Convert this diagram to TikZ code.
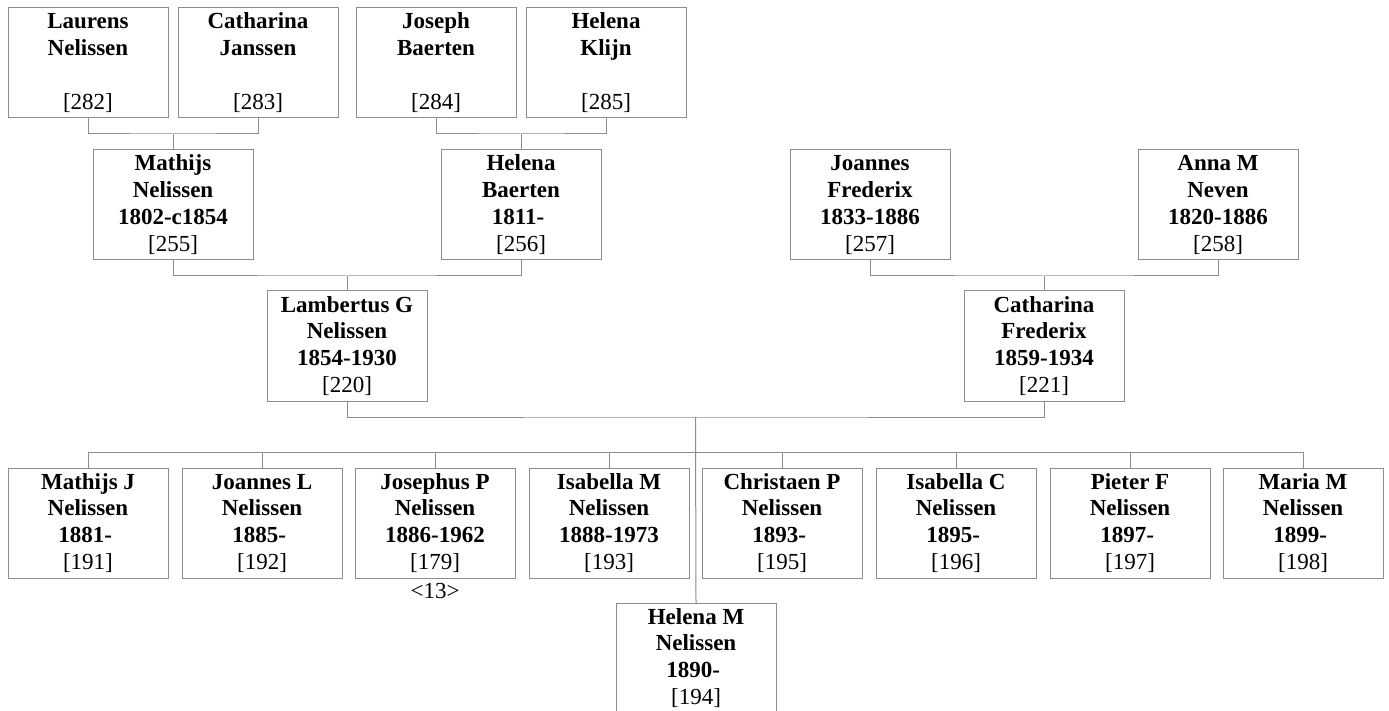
\documentclass[tikz,border=0pt]{standalone}
\usepackage{fontspec}
\setmainfont{Liberation Serif}
\usetikzlibrary{calc}
\definecolor{linec}{RGB}{140,140,140}
\newcommand\personcell[4]{\vbox to 110pt{\hsize=160pt\parindent=0pt\leftskip=0pt plus 1fil\rightskip=0pt plus 1fil\parfillskip=0pt\fontsize{23pt}{26.7pt}\selectfont\kern-5.7pt\prevdepth=0pt
\mbox{\bfseries #1}\par\mbox{\bfseries #2}\par\mbox{\bfseries #3}\par\mbox{#4}\par\vss}}
\newcommand\tsp{\kern.25em}
\tikzset{
  person/.style={draw=linec, line width=1pt, inner sep=0pt, outer sep=0pt, anchor=north west},
  conn/.style={draw=linec, line width=1pt},
  note/.style={inner sep=0pt, anchor=base, font=\fontsize{23pt}{26.7pt}\selectfont}
}
\begin{document}
\begin{tikzpicture}[x=1pt,y=-1pt]
\fill[white] (0,0) rectangle (1389,711);
\useasboundingbox (0,0) rectangle (1389,711);
% row A
\node[person] (laurens) at (8,8) {\personcell{Laurens}{Nelissen}{}{[282]}};
\node[person] (cathj) at (178,8) {\personcell{Catharina}{Janssen}{}{[283]}};
\node[person] (joseph) at (356,8) {\personcell{Joseph}{Baerten}{}{[284]}};
\node[person] (helenak) at (526,8) {\personcell{Helena}{Klijn}{}{[285]}};
% row B
\node[person] (mathijs) at (93,150) {\personcell{Mathijs}{Nelissen}{1802-c1854}{[255]}};
\node[person] (helenab) at (441,150) {\personcell{Helena}{Baerten}{1811-\tsp}{[256]}};
\node[person] (joannesf) at (790,150) {\personcell{Joannes}{Frederix}{1833-1886}{[257]}};
\node[person] (anna) at (1138,150) {\personcell{Anna M}{Neven}{1820-1886}{[258]}};
% row C
\node[person] (lamb) at (267,291) {\personcell{Lambertus G}{Nelissen}{1854-1930}{[220]}};
\node[person] (cathf) at (964,291) {\personcell{Catharina}{Frederix}{1859-1934}{[221]}};
% row D
\node[person] (c1) at (8,468) {\personcell{Mathijs J}{Nelissen}{1881-\tsp}{[191]}};
\node[person] (c2) at (182,468) {\personcell{Joannes L}{Nelissen}{1885-\tsp}{[192]}};
\node[person] (c3) at (355,468) {\personcell{Josephus P}{Nelissen}{1886-1962}{[179]}};
\node[person] (c4) at (529,468) {\personcell{Isabella M}{Nelissen}{1888-1973}{[193]}};
\node[person] (c5) at (702,468) {\personcell{Christaen P}{Nelissen}{1893-\tsp}{[195]}};
\node[person] (c6) at (876,468) {\personcell{Isabella C}{Nelissen}{1895-\tsp}{[196]}};
\node[person] (c7) at (1050,468) {\personcell{Pieter F}{Nelissen}{1897-\tsp}{[197]}};
\node[person] (c8) at (1223,468) {\personcell{Maria M}{Nelissen}{1899-\tsp}{[198]}};
\node[person] (helenam) at (616,603) {\personcell{Helena M}{Nelissen}{1890-\tsp}{[194]}};
\node[note] (n13) at (435,598) {\textless13\textgreater};
% couple connectors
\coordinate (k1) at ($(laurens.south)!0.5!(cathj.south)+(0,16)$);
\draw[conn] (laurens.south) |- (k1) -| (cathj.south);
\draw[conn] (k1) -- (mathijs.north);
\coordinate (k2) at ($(joseph.south)!0.5!(helenak.south)+(0,16)$);
\draw[conn] (joseph.south) |- (k2) -| (helenak.south);
\draw[conn] (k2) -- (helenab.north);
\coordinate (k3) at ($(mathijs.south)!0.5!(helenab.south)+(0,16)$);
\draw[conn] (mathijs.south) |- (k3) -| (helenab.south);
\draw[conn] (k3) -- (lamb.north);
\coordinate (k4) at ($(joannesf.south)!0.5!(anna.south)+(0,16)$);
\draw[conn] (joannesf.south) |- (k4) -| (anna.south);
\draw[conn] (k4) -- (cathf.north);
\coordinate (k5) at ($(lamb.south)!0.5!(cathf.south)+(0,16)$);
\draw[conn] (lamb.south) |- (k5) -| (cathf.south);
\draw[conn] (k5) -- (helenam.north);
% children bar
\draw[conn] (c1.north) -- ++(0,-16) -| (c8.north);
\foreach \c in {c2,c3,c4,c5,c6,c7} {\draw[conn] (\c.north) -- ++(0,-16);}
\end{tikzpicture}
\end{document}
